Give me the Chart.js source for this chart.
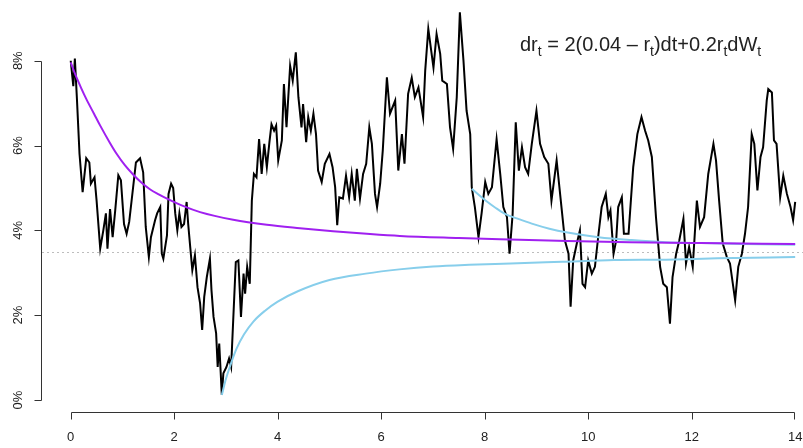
<!DOCTYPE html>
<html>
<head>
<meta charset="utf-8">
<script src="https://cdn.jsdelivr.net/npm/chart.js@4.4.0/dist/chart.umd.min.js"></script>
<style>
  html, body { margin: 0; padding: 0; background: #fff; }
  #wrap { width: 803px; height: 448px; }
</style>
</head>
<body>
<div id="wrap"><canvas id="rateChart" width="803" height="448"></canvas></div>
<script>
// ===== DATA (years, percent) =====

// simulated short rate path
const pathX = [
    0.00, 0.05, 0.08, 0.12, 0.17, 0.23, 0.30, 0.36, 0.39, 0.46,
    0.50, 0.57, 0.63, 0.68, 0.71, 0.76, 0.81, 0.86, 0.92, 0.97,
    1.03, 1.08, 1.13, 1.21, 1.26, 1.34, 1.40, 1.45, 1.51, 1.55,
    1.63, 1.67, 1.73, 1.76, 1.79, 1.86, 1.89, 1.94, 1.98, 2.02,
    2.06, 2.10, 2.14, 2.19, 2.24, 2.27, 2.31, 2.35, 2.40, 2.45,
    2.50, 2.54, 2.58, 2.63, 2.69, 2.72, 2.76, 2.81, 2.84, 2.87,
    2.92, 2.95, 3.01, 3.06, 3.10, 3.14, 3.19, 3.24, 3.29, 3.34,
    3.37, 3.41, 3.46, 3.50, 3.54, 3.59, 3.64, 3.69, 3.74, 3.79,
    3.84, 3.88, 3.93, 3.97, 4.01, 4.08, 4.12, 4.17, 4.24, 4.29,
    4.35, 4.40, 4.46, 4.49, 4.55, 4.59, 4.64, 4.69, 4.74, 4.78,
    4.85, 4.91, 5.00, 5.06, 5.11, 5.15, 5.19, 5.26, 5.32, 5.38,
    5.43, 5.49, 5.53, 5.59, 5.65, 5.71, 5.77, 5.82, 5.88, 5.92,
    5.98, 6.03, 6.11, 6.17, 6.27, 6.33, 6.40, 6.45, 6.52, 6.59,
    6.65, 6.72, 6.81, 6.85, 6.91, 7.01, 7.07, 7.14, 7.18, 7.27,
    7.33, 7.39, 7.46, 7.52, 7.59, 7.65, 7.72, 7.75, 7.81, 7.88,
    7.94, 8.01, 8.07, 8.14, 8.23, 8.30, 8.36, 8.43, 8.48, 8.54,
    8.60, 8.66, 8.72, 8.78, 8.84, 8.91, 9.00, 9.07, 9.15, 9.23,
    9.29, 9.39, 9.49, 9.55, 9.62, 9.66, 9.71, 9.78, 9.84, 9.89,
    9.94, 10.00, 10.07, 10.13, 10.20, 10.26, 10.34, 10.39, 10.43, 10.49,
    10.54, 10.58, 10.65, 10.69, 10.78, 10.87, 10.95, 11.03, 11.10, 11.16,
    11.23, 11.31, 11.39, 11.45, 11.52, 11.58, 11.63, 11.70, 11.76, 11.84,
    11.89, 11.95, 12.02, 12.10, 12.16, 12.24, 12.32, 12.42, 12.47, 12.53,
    12.60, 12.68, 12.74, 12.84, 12.90, 12.97, 13.03, 13.09, 13.16, 13.21,
    13.27, 13.33, 13.38, 13.45, 13.48, 13.55, 13.59, 13.64, 13.71, 13.77,
    13.84, 13.91, 13.96, 14.00
];
const pathRate = [
    8.00, 7.40, 8.05, 7.10, 5.80, 4.90, 5.70, 5.60, 5.10, 5.25,
    4.70, 3.57, 4.00, 4.40, 3.57, 4.50, 3.84, 4.47, 5.30, 5.18,
    4.15, 3.92, 4.20, 5.06, 5.60, 5.70, 5.37, 4.08, 3.37, 3.84,
    4.24, 4.40, 4.55, 3.45, 3.33, 3.88, 4.86, 5.10, 5.00, 4.40,
    4.00, 4.40, 4.08, 4.15, 4.67, 4.15, 3.60, 3.06, 3.41, 2.66,
    2.28, 1.65, 2.43, 2.90, 3.33, 2.59, 1.96, 1.57, 0.78, 1.33,
    0.12, 0.63, 0.78, 0.98, 0.78, 1.88, 3.25, 3.29, 1.96, 2.98,
    2.51, 3.14, 2.74, 4.70, 5.33, 5.25, 6.15, 5.33, 6.04, 5.49,
    6.08, 6.50, 6.35, 6.47, 5.65, 6.12, 7.45, 6.43, 7.88, 7.53,
    8.20, 7.14, 6.43, 6.98, 6.08, 6.67, 6.35, 6.75, 6.27, 5.41,
    5.14, 5.57, 5.80, 5.49, 5.02, 4.12, 4.78, 4.75, 5.29, 4.78,
    5.33, 4.70, 5.45, 4.75, 5.33, 5.57, 6.43, 6.04, 4.86, 4.55,
    5.10, 5.88, 7.61, 6.75, 7.06, 5.41, 6.27, 5.57, 7.22, 7.60,
    7.14, 7.37, 6.67, 7.76, 8.75, 7.84, 8.63, 8.16, 7.53, 7.45,
    6.43, 5.92, 7.14, 9.14, 8.00, 6.82, 6.27, 5.02, 4.55, 3.84,
    4.40, 5.14, 4.86, 5.02, 6.15, 5.33, 4.55, 4.31, 3.45, 4.39,
    6.55, 5.41, 5.96, 5.49, 5.33, 6.04, 6.82, 6.04, 5.73, 5.57,
    4.70, 5.65, 4.47, 3.76, 3.45, 2.20, 3.29, 3.69, 4.00, 2.74,
    2.66, 3.29, 2.98, 3.14, 3.92, 4.55, 4.86, 4.31, 4.47, 3.45,
    3.76, 4.55, 4.78, 3.92, 3.92, 5.49, 6.27, 6.67, 6.35, 6.12,
    5.73, 4.31, 3.14, 2.74, 2.66, 1.80, 2.90, 3.45, 3.76, 4.27,
    3.22, 3.61, 3.14, 4.70, 4.08, 4.31, 5.33, 6.04, 5.65, 4.70,
    3.69, 3.37, 3.22, 2.35, 3.14, 3.45, 3.92, 4.55, 6.27, 6.04,
    4.94, 5.73, 5.96, 7.06, 7.33, 7.25, 6.12, 6.04, 4.78, 5.29,
    4.86, 4.55, 4.24, 4.67
];

// expected path from t = 0 (purple)
const meanX = [0, 0.10, 0.20, 0.30, 0.45, 0.57, 0.75, 0.89, 1.05, 1.21, 1.37, 1.53, 1.70, 1.86,
               2.18, 2.50, 3.14, 3.79, 4.43, 5.07, 5.72, 6.36, 7.50, 8.30, 9.60, 10.80, 12.16, 14.00];
const meanRate = [7.96, 7.64, 7.36, 7.10, 6.75, 6.47, 6.08, 5.80, 5.53, 5.31, 5.12, 4.97, 4.85, 4.75,
                  4.57, 4.43, 4.25, 4.13, 4.05, 3.98, 3.92, 3.87, 3.82, 3.79, 3.75, 3.72, 3.70, 3.68];

// expected path from the low point (sky blue)
const lowX = [2.92, 3.00, 3.08, 3.20, 3.35, 3.53, 3.75, 4.00, 4.40, 5.00, 5.70, 6.35, 7.00,
              7.70, 8.50, 9.50, 10.50, 11.50, 12.50, 14.00];
const lowRate = [0.12, 0.50, 0.80, 1.20, 1.55, 1.85, 2.10, 2.32, 2.57, 2.83, 2.98, 3.08, 3.15,
                 3.19, 3.22, 3.26, 3.30, 3.31, 3.34, 3.37];

// expected path from t = 7.75 (sky blue)
const highX = [7.75, 7.90, 8.01, 8.20, 8.39, 8.65, 8.91, 9.25, 9.60, 10.20, 10.84, 11.50, 12.20, 13.00, 14.00];
const highRate = [4.98, 4.82, 4.71, 4.54, 4.39, 4.27, 4.16, 4.04, 3.95, 3.84, 3.77, 3.72, 3.70, 3.68, 3.66];

const refLevel = 3.5;
const xTicks = [0, 2, 4, 6, 8, 10, 12, 14];
const yTicks = [0, 2, 4, 6, 8];

// ===== HELPERS =====
function toPoints(xs, ys) {
    return xs.map((x, i) => ({ x: x, y: ys[i] }));
}

const FONT = '"Liberation Sans", Arial, sans-serif';

// axes in R style + dotted level + formula
const rStylePlugin = {
    id: 'rStyle',
    beforeDatasetsDraw(chart) {
        const ctx = chart.ctx;
        const y = chart.scales.y.getPixelForValue(refLevel);
        ctx.save();
        ctx.strokeStyle = '#bdbdbd';
        ctx.lineWidth = 1;
        ctx.setLineDash([2, 3]);
        ctx.beginPath();
        ctx.moveTo(chart.chartArea.left, Math.round(y) + 0.5);
        ctx.lineTo(chart.chartArea.right, Math.round(y) + 0.5);
        ctx.stroke();
        ctx.restore();
    },
    afterDraw(chart) {
        const ctx = chart.ctx;
        const xs = chart.scales.x;
        const ys = chart.scales.y;
        const left = chart.chartArea.left - 0.5;
        const bottom = chart.chartArea.bottom + 0.5;

        ctx.save();
        ctx.strokeStyle = '#333';
        ctx.fillStyle = '#222';
        ctx.lineWidth = 1;

        // y axis
        const yTop = Math.round(ys.getPixelForValue(yTicks[yTicks.length - 1])) + 0.5;
        const yBot = Math.round(ys.getPixelForValue(yTicks[0])) + 0.5;
        ctx.beginPath();
        ctx.moveTo(left, yTop);
        ctx.lineTo(left, yBot);
        yTicks.forEach(v => {
            const p = Math.round(ys.getPixelForValue(v)) + 0.5;
            ctx.moveTo(left, p);
            ctx.lineTo(left - 7, p);
        });
        ctx.stroke();

        ctx.font = '13px ' + FONT;
        ctx.textAlign = 'center';
        ctx.textBaseline = 'middle';
        yTicks.forEach(v => {
            const p = ys.getPixelForValue(v);
            ctx.save();
            ctx.translate(18, p);
            ctx.rotate(-Math.PI / 2);
            ctx.fillText(v + '%', 0, 0);
            ctx.restore();
        });

        // x axis
        const xL = Math.round(xs.getPixelForValue(xTicks[0])) + 0.5;
        const xR = Math.round(xs.getPixelForValue(xTicks[xTicks.length - 1])) - 0.5;
        ctx.beginPath();
        ctx.moveTo(xL, bottom);
        ctx.lineTo(xR, bottom);
        xTicks.forEach(v => {
            let p = Math.round(xs.getPixelForValue(v)) + 0.5;
            if (p > xR) p = xR;
            ctx.moveTo(p, bottom);
            ctx.lineTo(p, bottom + 7);
        });
        ctx.stroke();
        xTicks.forEach(v => {
            ctx.fillText(String(v), xs.getPixelForValue(v), bottom + 25);
        });

        // formula
        const parts = [
            ['dr', false], ['t', true], [' = 2(0.04 \u2013 r', false], ['t', true],
            [')dt+0.2r', false], ['t', true], ['dW', false], ['t', true]
        ];
        let cx = 520;
        const base = 51;
        ctx.textAlign = 'left';
        ctx.textBaseline = 'alphabetic';
        parts.forEach(([txt, sub]) => {
            ctx.font = (sub ? '14px ' : '20px ') + FONT;
            ctx.fillText(txt, cx, sub ? base + 5 : base);
            cx += ctx.measureText(txt).width;
        });
        ctx.restore();
    }
};

// ===== CHART =====
const smoothLine = (points, color) => ({
    data: points,
    showLine: true,
    borderColor: color,
    borderWidth: 2,
    pointRadius: 0,
    cubicInterpolationMode: 'monotone',
    order: 1
});

const ctx = document.getElementById('rateChart');
const rateChart = new Chart(ctx, {
    type: 'scatter',
    data: {
        datasets: [
            Object.assign(smoothLine(toPoints(meanX, meanRate), '#a020f0'), { label: 'mean from 0' }),
            Object.assign(smoothLine(toPoints(lowX, lowRate), '#87ceeb'), { label: 'mean from low' }),
            Object.assign(smoothLine(toPoints(highX, highRate), '#87ceeb'), { label: 'mean from 7.75' }),
            {
                label: 'short rate',
                data: toPoints(pathX, pathRate),
                showLine: true,
                borderColor: '#000000',
                borderWidth: 2,
                pointRadius: 0,
                tension: 0,
                order: 3
            }
        ]
    },
    options: {
        responsive: false,
        animation: false,
        devicePixelRatio: 1,
        layout: {
            padding: { left: 42, right: 0, top: 0, bottom: 36 }
        },
        plugins: {
            legend: { display: false },
            tooltip: { enabled: false }
        },
        scales: {
            x: { type: 'linear', min: -0.555, max: 14.151, display: false },
            y: { type: 'linear', min: -0.283, max: 9.432, display: false }
        }
    },
    plugins: [rStylePlugin]
});
</script>
</body>
</html>
